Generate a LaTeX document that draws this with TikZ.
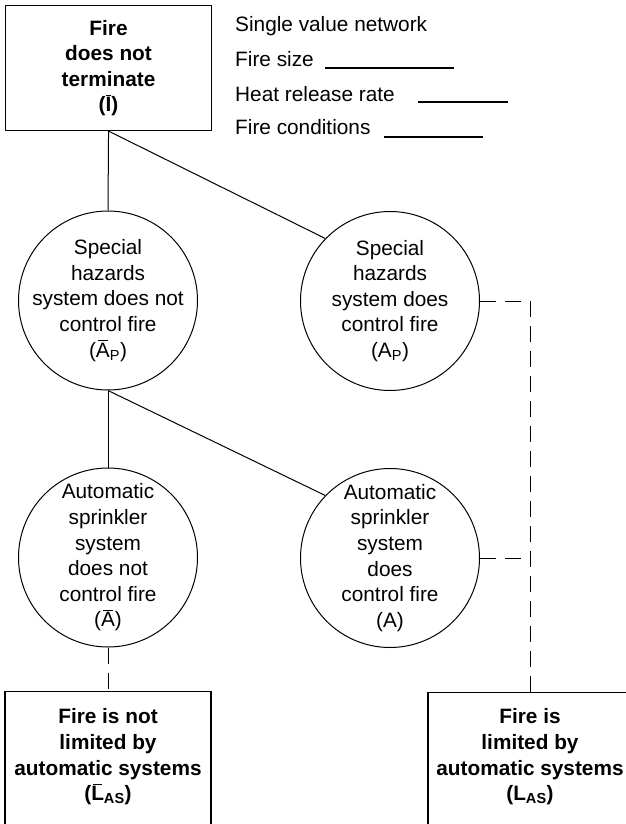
\documentclass[tikz,border=0pt]{standalone}
\usepackage{fontspec}
\setmainfont{Liberation Sans}
% letter with a short bar above it (complement of an event)
\newcommand{\barover}[1]{\leavevmode\setbox0=\hbox{#1}%
  \hbox to \wd0{\hss\vbox{\hrule height 0.9pt width 0.72\wd0 \kern 2pt
  \hbox to 0.72\wd0{\hss\box0\hss}}\hss}}
\begin{document}
\begin{tikzpicture}[x=1pt,y=-1pt,
  every node/.style={font=\fontsize{20.8}{25.6}\selectfont},
  box/.style={draw,line width=1.1pt,rectangle,inner sep=0pt},
  event/.style={draw,line width=1pt,circle,inner sep=0pt,minimum size=179pt},
  label text/.style={align=center,inner sep=0pt},
  bold text/.style={align=center,inner sep=0pt,font=\fontsize{20.8}{25.6}\selectfont\bfseries},
  tree/.style={line width=1pt},
  open/.style={line width=1pt,dash pattern=on 16pt off 9pt}]
\useasboundingbox (0,0) rectangle (626,824);
\clip (0,0) rectangle (626,824);

% root event
\node[box,minimum width=206pt,minimum height=125pt,anchor=north west] (top) at (5,5) {};
\node[bold text] (toptext) at (top.center) {Fire\\does not\\terminate\\(\barover{I})};

% network legend
\node[anchor=base west,inner sep=0pt] (svn) at (235,32) {Single value network};
\node[anchor=base west,inner sep=0pt] (fs) at (235,67) {Fire size};
\node[anchor=base west,inner sep=0pt] (hrr) at (235,102) {Heat release rate};
\node[anchor=base west,inner sep=0pt] (fc) at (235,135) {Fire conditions};
\draw[line width=1.2pt] (325,68) -- (454,68);
\draw[line width=1.2pt] (418,102) -- (508,102);
\draw[line width=1.2pt] (384,137) -- (483,137);

% special hazards system
\node[event] (c1) at (108,300.5) {};
\node[label text] (c1text) at (c1.center) {Special\\hazards\\system does not\\control fire\\(\barover{A}\textsubscript{P})};
\node[event] (c2) at (390,301) {};
\node[label text] (c2text) at (c2.center) {Special\\hazards\\system does\\control fire\\(A\textsubscript{P})};

% automatic sprinkler system
\node[event] (c3) at (108,557.5) {};
\node[label text] (c3text) at (c3.center) {Automatic\\sprinkler\\system\\does not\\control fire\\(\barover{A})};
\node[event] (c4) at (390,558) {};
\node[label text] (c4text) at (c4.center) {Automatic\\sprinkler\\system\\does\\control fire\\(A)};

% outcomes
\node[box,minimum width=206pt,minimum height=190pt,anchor=north] (lb) at (108,691) {};
\node[bold text] (lbtext) at (108,757) {Fire is not\\limited by\\automatic systems\\(\barover{L}\textsubscript{AS})};
\node[box,minimum width=204pt,minimum height=190pt,anchor=north] (rb) at (530,692) {};
\node[bold text] (rbtext) at (530,757) {Fire is\\limited by\\automatic systems\\(L\textsubscript{AS})};

% branches
\draw[tree] (top.south) -- (c1.north);
\draw[tree] (top.south) -- (c2.136);
\draw[tree] (c1.south) -- (c3.north);
\draw[tree] (c1.south) -- (c4.136);

% links to outcomes
\coordinate (j1) at (530,301);
\coordinate (j2) at (530,558);
\draw[open] (c2.east) -- (j1) -- (rb.north);
\draw[open] (c4.east) -- (j2);
\draw[open] (c3.south) -- (lb.north);
\end{tikzpicture}
\end{document}
